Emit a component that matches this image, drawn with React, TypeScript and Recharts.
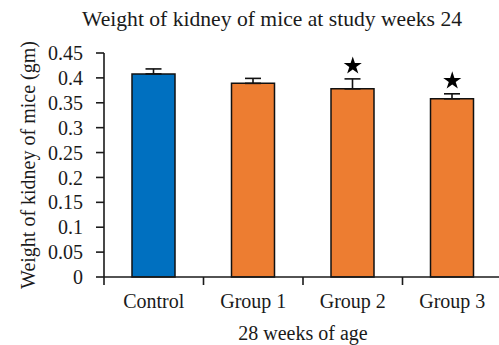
import { ComposedChart, Bar, Cell, ErrorBar, Scatter, XAxis, YAxis } from 'recharts'

const groups = ['Control', 'Group 1', 'Group 2', 'Group 3']
const weights = [0.408, 0.389, 0.378, 0.358]
const errors = [0.01, 0.01, 0.02, 0.01]
const significant = [false, false, true, true]
const yTicks = [0, 0.05, 0.1, 0.15, 0.2, 0.25, 0.3, 0.35, 0.4, 0.45]

const BAR_COLORS = ['#0070C0', '#ED7D31', '#ED7D31', '#ED7D31']
const FONT = 'Liberation Serif, Times New Roman, serif'
const INK = '#1a1a1a'

const data = groups.map((name, i) => ({
  name,
  weight: weights[i],
  err: [0, errors[i]],
  star: significant[i] ? weights[i] + errors[i] : null
}))

function starPoints(cx: number, cy: number, R: number) {
  const r = R * 0.382
  const pts: string[] = []
  for (let k = 0; k < 10; k++) {
    const rad = k % 2 === 0 ? R : r
    const a = -Math.PI / 2 + (k * Math.PI) / 5
    pts.push(`${cx + rad * Math.cos(a)},${cy + rad * Math.sin(a)}`)
  }
  return pts.join(' ')
}

const Star = (props: any) => {
  const { cx, cy } = props
  if (typeof cx !== 'number' || typeof cy !== 'number' || Number.isNaN(cy)) return <g />
  return <polygon points={starPoints(cx, cy - 13, 9.5)} fill="#000" />
}

const CategoryTick = (props: any) => {
  const { x, y, payload, index } = props
  const half = payload?.offset || 49.75
  return (
    <g>
      <line x1={x - half} x2={x - half} y1={y - 8} y2={y} stroke={INK} strokeWidth={1.6} />
      {index === groups.length - 1 && (
        <line x1={x + half} x2={x + half} y1={y - 8} y2={y} stroke={INK} strokeWidth={1.6} />
      )}
      <text x={x} y={y + 23} textAnchor="middle" fontFamily={FONT} fontSize={20} fill={INK}>
        {payload.value}
      </text>
    </g>
  )
}

const YTitle = (props: any) => {
  const vb = props.viewBox || { x: 0, y: 53, height: 224 }
  const cx = 35
  const cy = vb.y + vb.height / 2
  return (
    <text
      x={cx}
      y={cy}
      transform={`rotate(-90 ${cx} ${cy})`}
      textAnchor="middle"
      fontFamily={FONT}
      fontSize={20}
      fill={INK}
    >
      Weight of kidney of mice (gm)
    </text>
  )
}

const XTitle = (props: any) => {
  const vb = props.viewBox || { x: 104, y: 277, width: 398 }
  return (
    <text
      x={vb.x + vb.width / 2}
      y={340}
      textAnchor="middle"
      fontFamily={FONT}
      fontSize={20}
      fill={INK}
    >
      28 weeks of age
    </text>
  )
}

export default function App() {
  return (
    <div
      style={{
        position: 'absolute',
        left: 0,
        top: 0,
        width: 499,
        height: 345,
        overflow: 'hidden',
        background: '#fff'
      }}
    >
      <svg width={499} height={40} style={{ position: 'absolute', left: 0, top: 0 }}>
        <text
          x={272}
          y={26}
          textAnchor="middle"
          fontFamily={FONT}
          fontSize={21}
          textLength={380}
          lengthAdjust="spacingAndGlyphs"
          fill={INK}
        >
          Weight of kidney of mice at study weeks 24
        </text>
      </svg>
      <div style={{ position: 'absolute', left: 0, top: 0 }}>
        <ComposedChart
          width={510}
          height={345}
          data={data}
          margin={{ top: 53, right: 8, bottom: 38, left: 0 }}
        >
          <XAxis
            dataKey="name"
            height={30}
            tick={<CategoryTick />}
            tickLine={false}
            tickSize={8}
            tickMargin={0}
            axisLine={{ stroke: INK, strokeWidth: 1.6 }}
            interval={0}
            label={<XTitle />}
          />
          <YAxis
            width={104}
            domain={[0, 0.45]}
            ticks={yTicks}
            interval={0}
            tickSize={8}
            tickMargin={13}
            tickLine={{ stroke: INK, strokeWidth: 1.6 }}
            axisLine={{ stroke: INK, strokeWidth: 1.6 }}
            tick={{ fontFamily: FONT, fontSize: 20, fill: INK }}
            label={<YTitle />}
          />
          <Bar
            dataKey="weight"
            barSize={43}
            stroke="#111"
            strokeWidth={1.5}
            isAnimationActive={false}
          >
            {data.map((_, i) => (
              <Cell key={`cell-${i}`} fill={BAR_COLORS[i]} />
            ))}
            <ErrorBar dataKey="err" width={8} stroke="#111" strokeWidth={1.6} />
          </Bar>
          <Scatter dataKey="star" shape={<Star />} isAnimationActive={false} />
        </ComposedChart>
      </div>
    </div>
  )
}
